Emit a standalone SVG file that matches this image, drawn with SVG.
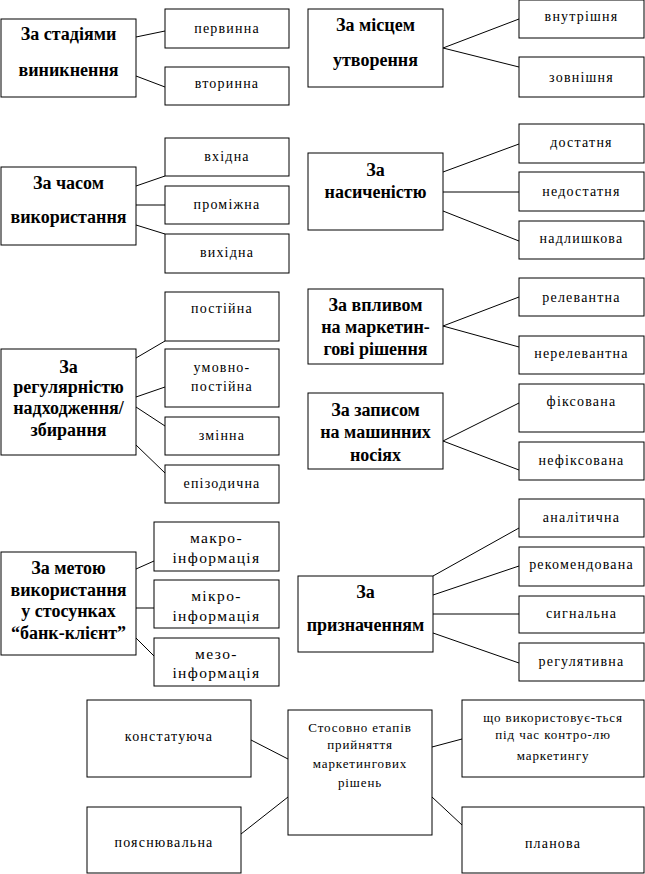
<svg xmlns="http://www.w3.org/2000/svg" width="645" height="874" viewBox="0 0 645 874">
<style>
.box{fill:#fff;stroke:#000;stroke-width:1}
.cat{font-family:"Liberation Serif","DejaVu Serif","Times New Roman",serif;font-size:18px;font-weight:bold;text-anchor:middle;fill:#000}
.sub{font-family:"Liberation Serif","DejaVu Serif","Times New Roman",serif;font-size:14px;letter-spacing:1.2px;text-anchor:middle;fill:#000}
.big{font-size:15.5px;letter-spacing:1.4px}
.sm{font-size:13px;letter-spacing:0.9px}
#connectors line{stroke:#000;stroke-width:1}
</style>
<rect width="645" height="874" fill="#fff"/>
<g id="connectors">
<line x1="136" y1="37" x2="165" y2="31"/>
<line x1="136" y1="76" x2="165" y2="87"/>
<line x1="443" y1="48" x2="519" y2="19"/>
<line x1="443" y1="48" x2="519" y2="67"/>
<line x1="136" y1="186" x2="165" y2="176"/>
<line x1="136" y1="205" x2="165" y2="205"/>
<line x1="136" y1="225" x2="165" y2="234"/>
<line x1="443" y1="172" x2="519" y2="144"/>
<line x1="443" y1="192" x2="519" y2="192"/>
<line x1="443" y1="211" x2="519" y2="241"/>
<line x1="136" y1="358" x2="165" y2="341"/>
<line x1="136" y1="397" x2="165" y2="387"/>
<line x1="136" y1="407" x2="165" y2="426"/>
<line x1="136" y1="445" x2="165" y2="473"/>
<line x1="443" y1="326" x2="519" y2="297"/>
<line x1="443" y1="326" x2="519" y2="347"/>
<line x1="443" y1="441" x2="519" y2="403"/>
<line x1="443" y1="441" x2="519" y2="470"/>
<line x1="136" y1="569" x2="154" y2="561"/>
<line x1="136" y1="608" x2="154" y2="608"/>
<line x1="136" y1="638" x2="154" y2="656"/>
<line x1="433" y1="576" x2="519" y2="528"/>
<line x1="433" y1="595" x2="519" y2="566"/>
<line x1="433" y1="614" x2="519" y2="614"/>
<line x1="433" y1="633" x2="519" y2="663"/>
<line x1="251" y1="740" x2="288" y2="759"/>
<line x1="241" y1="834" x2="288" y2="797"/>
<line x1="432" y1="747" x2="462" y2="739"/>
<line x1="432" y1="797" x2="462" y2="825"/>
</g>

<g id="n-stadii"><rect class="box" x="1" y="19" width="135" height="78"/><text class="cat" x="68.5" y="40">За стадіями</text><text class="cat" x="68.5" y="76">виникнення</text></g>
<g id="n-pervynna"><rect class="box" x="165" y="9" width="124" height="39"/><text class="sub" x="227" y="33">первинна</text></g>
<g id="n-vtorynna"><rect class="box" x="165" y="67" width="124" height="38"/><text class="sub" x="227" y="88">вторинна</text></g>

<g id="n-mistse"><rect class="box" x="308" y="9" width="135" height="78"/><text class="cat" x="375.5" y="31">За місцем</text><text class="cat" x="375.5" y="66">утворення</text></g>
<g id="n-vnutrishnia"><rect class="box" x="519" y="0" width="125" height="38"/><text class="sub" x="581.5" y="21">внутрішня</text></g>
<g id="n-zovnishnia"><rect class="box" x="519" y="57" width="125" height="40"/><text class="sub" x="581.5" y="82">зовнішня</text></g>

<g id="n-chas"><rect class="box" x="1" y="167" width="135" height="78"/><text class="cat" x="68.5" y="189">За часом</text><text class="cat" x="68.5" y="223">використання</text></g>
<g id="n-vkhidna"><rect class="box" x="165" y="138" width="124" height="38"/><text class="sub" x="227" y="161">вхідна</text></g>
<g id="n-promizhna"><rect class="box" x="165" y="186" width="124" height="38"/><text class="sub" x="227" y="209">проміжна</text></g>
<g id="n-vykhidna"><rect class="box" x="165" y="234" width="124" height="39"/><text class="sub" x="227" y="257">вихідна</text></g>

<g id="n-nasychenist"><rect class="box" x="308" y="153" width="135" height="77"/><text class="cat" x="375.5" y="176">За</text><text class="cat" x="375.5" y="198">насиченістю</text></g>
<g id="n-dostatnia"><rect class="box" x="519" y="124" width="125" height="39"/><text class="sub" x="581.5" y="147">достатня</text></g>
<g id="n-nedostatnia"><rect class="box" x="519" y="172" width="125" height="39"/><text class="sub" x="581.5" y="196">недостатня</text></g>
<g id="n-nadlyshkova"><rect class="box" x="519" y="221" width="125" height="38"/><text class="sub" x="581.5" y="243">надлишкова</text></g>

<g id="n-rehuliarnist"><rect class="box" x="1" y="349" width="135" height="106"/><text class="cat" x="68.5" y="373">За</text><text class="cat" x="68.5" y="393">регулярністю</text><text class="cat" x="68.5" y="414">надходження/</text><text class="cat" x="68.5" y="436">збирання</text></g>
<g id="n-postiina"><rect class="box" x="165" y="292" width="114" height="49"/><text class="sub" x="222" y="313">постійна</text></g>
<g id="n-umovno"><rect class="box" x="165" y="349" width="114" height="58"/><text class="sub" x="222" y="372">умовно-</text><text class="sub" x="222" y="391">постійна</text></g>
<g id="n-zminna"><rect class="box" x="165" y="417" width="114" height="38"/><text class="sub" x="222" y="440">змінна</text></g>
<g id="n-epizodychna"><rect class="box" x="165" y="465" width="114" height="38"/><text class="sub" x="222" y="488">епізодична</text></g>

<g id="n-vplyv"><rect class="box" x="308" y="289" width="135" height="75"/><text class="cat" x="375.5" y="311">За  впливом</text><text class="cat" x="375.5" y="333">на маркетин-</text><text class="cat" x="375.5" y="355">гові рішення</text></g>
<g id="n-relevantna"><rect class="box" x="519" y="278" width="125" height="38"/><text class="sub" x="581.5" y="302">релевантна</text></g>
<g id="n-nerelevantna"><rect class="box" x="519" y="336" width="125" height="38"/><text class="sub" x="581.5" y="358">нерелевантна</text></g>

<g id="n-zapys"><rect class="box" x="308" y="393" width="135" height="76"/><text class="cat" x="375.5" y="416">За  записом</text><text class="cat" x="375.5" y="438">на машинних</text><text class="cat" x="375.5" y="461">носіях</text></g>
<g id="n-fiksovana"><rect class="box" x="519" y="384" width="125" height="48"/><text class="sub" x="581.5" y="406">фіксована</text></g>
<g id="n-nefiksovana"><rect class="box" x="519" y="442" width="125" height="38"/><text class="sub" x="581.5" y="465">нефіксована</text></g>

<g id="n-metoiu"><rect class="box" x="1" y="552" width="135" height="103"/><text class="cat" x="68.5" y="574">За метою</text><text class="cat" x="68.5" y="596">використання</text><text class="cat" x="68.5" y="617">у стосунках</text><text class="cat" x="68.5" y="639">“банк-клієнт”</text></g>
<g id="n-makro"><rect class="box" x="154" y="522" width="125" height="49"/><text class="sub big" x="216.5" y="543">макро-</text><text class="sub big" x="216.5" y="563">інформація</text></g>
<g id="n-mikro"><rect class="box" x="154" y="580" width="125" height="48"/><text class="sub big" x="216.5" y="601">мікро-</text><text class="sub big" x="216.5" y="621">інформація</text></g>
<g id="n-mezo"><rect class="box" x="154" y="638" width="125" height="48"/><text class="sub big" x="216.5" y="659">мезо-</text><text class="sub big" x="216.5" y="678">інформація</text></g>

<g id="n-pryznachennia"><rect class="box" x="298" y="576" width="135" height="76"/><text class="cat" x="365.5" y="598">За</text><text class="cat" x="365.5" y="631">призначенням</text></g>
<g id="n-analitychna"><rect class="box" x="519" y="499" width="125" height="38"/><text class="sub" x="581.5" y="522">аналітична</text></g>
<g id="n-rekomendovana"><rect class="box" x="519" y="547" width="125" height="39"/><text class="sub" x="581.5" y="569">рекомендована</text></g>
<g id="n-syhnalna"><rect class="box" x="519" y="596" width="125" height="37"/><text class="sub" x="581.5" y="618">сигнальна</text></g>
<g id="n-rehuliatyvna"><rect class="box" x="519" y="643" width="125" height="38"/><text class="sub" x="581.5" y="666">регулятивна</text></g>

<g id="n-etapy"><rect class="box" x="288" y="710" width="144" height="125"/><text class="sub sm" x="360" y="732">Стосовно етапів</text><text class="sub sm" x="360" y="749">прийняття</text><text class="sub sm" x="360" y="768">маркетингових</text><text class="sub sm" x="360" y="787">рішень</text></g>
<g id="n-konstatuiucha"><rect class="box" x="87" y="700" width="164" height="77"/><text class="sub" x="169" y="741">констатуюча</text></g>
<g id="n-poiasniuvalna"><rect class="box" x="87" y="807" width="154" height="66"/><text class="sub" x="164" y="847">пояснювальна</text></g>
<g id="n-kontrol"><rect class="box" x="462" y="700" width="182" height="77"/><text class="sub sm" x="553" y="722">що використовує-ться</text><text class="sub sm" x="553" y="739">під час контро-лю</text><text class="sub sm" x="553" y="760">маркетингу</text></g>
<g id="n-planova"><rect class="box" x="462" y="807" width="182" height="66"/><text class="sub" x="553" y="848">планова</text></g>
</svg>
